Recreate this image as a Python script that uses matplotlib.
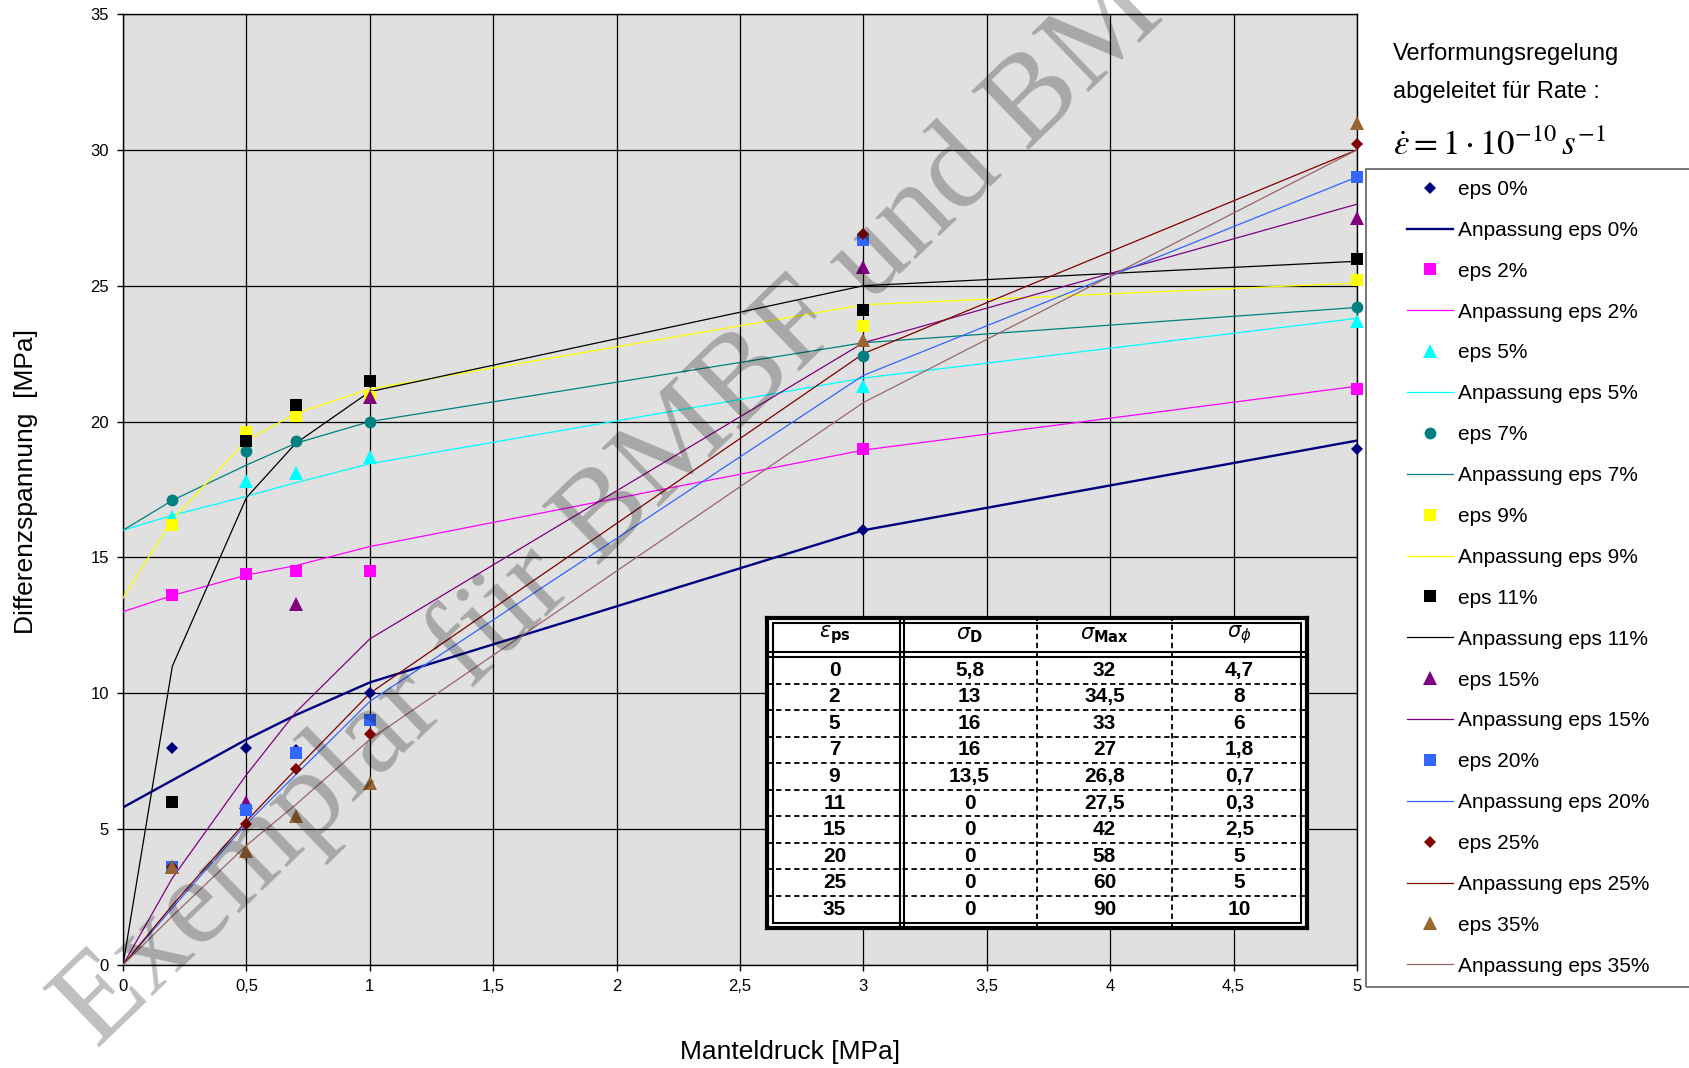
import matplotlib
matplotlib.use("Agg")
import matplotlib.pyplot as plt
from matplotlib.lines import Line2D
from matplotlib.patches import Rectangle

plt.rcParams["font.family"] = ["Liberation Sans", "DejaVu Sans"]

# measured points (Manteldruck in MPa)
X_PTS = [0.2, 0.5, 0.7, 1.0, 3.0, 5.0]
# fitted curves evaluated at these positions
X_FIT = [0.0, 0.2, 0.5, 0.7, 1.0, 3.0, 5.0]

eps0 = [8.0, 8.0, 7.9, 10.0, 16.0, 19.0]
fit0 = [5.8, 6.8, 8.3, 9.2, 10.4, 16.0, 19.3]
eps2 = [13.6, 14.4, 14.5, 14.5, 19.0, 21.2]
fit2 = [13.0, 13.6, 14.35, 14.7, 15.4, 18.95, 21.3]
eps5 = [16.5, 17.8, 18.1, 18.7, 21.3, 23.7]
fit5 = [16.0, 16.55, 17.25, 17.75, 18.45, 21.6, 23.8]
eps7 = [17.1, 18.9, 19.3, 20.0, 22.4, 24.2]
fit7 = [16.0, 17.1, 18.4, 19.2, 20.0, 22.9, 24.2]
eps9 = [16.2, 19.6, 20.2, 20.9, 23.5, 25.2]
fit9 = [13.5, 16.4, 19.3, 20.3, 21.2, 24.3, 25.1]
eps11 = [6.0, 19.3, 20.6, 21.5, 24.1, 26.0]
fit11 = [0.0, 11.0, 17.2, 19.2, 21.1, 25.0, 25.9]
eps15 = [3.6, 6.0, 13.3, 20.9, 25.7, 27.5]
fit15 = [0.0, 3.2, 7.0, 9.3, 12.0, 22.9, 28.0]
eps20 = [3.6, 5.7, 7.8, 9.0, 26.7, 29.0]
fit20 = [0.0, 2.1, 5.2, 7.0, 9.7, 21.7, 29.0]
eps25 = [3.6, 5.2, 7.2, 8.5, 26.9, 30.2]
fit25 = [0.0, 2.2, 5.3, 7.2, 10.0, 22.5, 30.0]
eps35 = [3.6, 4.2, 5.5, 6.7, 23.0, 31.0]
fit35 = [0.0, 1.8, 4.4, 5.9, 8.3, 20.7, 30.0]

EPS_LABELS = ["0", "2", "5", "7", "9", "11", "15", "20", "25", "35"]

# table in the plot
TAB_HEAD = [r"$\varepsilon_{\mathbf{ps}}$", r"$\sigma_{\mathbf{D}}$",
            r"$\sigma_{\mathbf{Max}}$", r"$\sigma_{\phi}$"]
TAB_EPS = ["0", "2", "5", "7", "9", "11", "15", "20", "25", "35"]
TAB_SIG_D = ["5,8", "13", "16", "16", "13,5", "0", "0", "0", "0", "0"]
TAB_SIG_MAX = ["32", "34,5", "33", "27", "26,8", "27,5", "42", "58", "60", "90"]
TAB_SIG_PHI = ["4,7", "8", "6", "1,8", "0,7", "0,3", "2,5", "5", "5", "10"]

X_TICKS = [0, 0.5, 1, 1.5, 2, 2.5, 3, 3.5, 4, 4.5, 5]
Y_TICKS = [0, 5, 10, 15, 20, 25, 30, 35]

SERIES = [
    (eps0, fit0, "D", 6.0, "#000080", "#000080", 1.7),
    (eps2, fit2, "s", 8.5, "#FF00FF", "#FF00FF", 0.9),
    (eps5, fit5, "^", 9.5, "#00FFFF", "#00FFFF", 0.9),
    (eps7, fit7, "o", 8.5, "#008080", "#008080", 0.9),
    (eps9, fit9, "s", 8.5, "#FFFF00", "#FFFF00", 0.9),
    (eps11, fit11, "s", 8.5, "#000000", "#000000", 0.9),
    (eps15, fit15, "^", 9.5, "#800080", "#800080", 0.9),
    (eps20, fit20, "s", 8.5, "#3366FF", "#3366FF", 0.9),
    (eps25, fit25, "D", 6.0, "#800000", "#800000", 0.9),
    (eps35, fit35, "^", 9.5, "#996633", "#996666", 0.9),
]


def main():
    W, H = 1689, 1068
    fig = plt.figure(figsize=(W / 100, H / 100), dpi=100)
    ax = fig.add_axes([123 / W, 1 - 965 / H, (1357 - 123) / W, (965 - 14) / H])
    ax.set_facecolor("#E0E0E0")

    handles, labels = [], []
    for (pts, fit, mk, ms, col, lcol, lw), eps in zip(SERIES, EPS_LABELS):
        ax.plot(X_PTS, pts, ls="none", marker=mk, ms=ms, color=col,
                markeredgewidth=0, zorder=4, clip_on=False)
        ax.plot(X_FIT, fit, color=lcol, lw=lw, zorder=3)
        handles.append(Line2D([], [], ls="none", marker=mk, ms=ms, color=col,
                              markeredgewidth=0))
        labels.append(f"eps {eps}%")
        handles.append(Line2D([], [], color=lcol, lw=lw))
        labels.append(f"Anpassung eps {eps}%")

    ax.set_xlim(0, 5)
    ax.set_ylim(0, 35)
    ax.set_xticks(X_TICKS)
    ax.set_xticklabels([f"{t:g}".replace(".", ",") for t in X_TICKS])
    ax.set_yticks(Y_TICKS)
    ax.set_yticklabels([str(t) for t in Y_TICKS])
    ax.tick_params(direction="out", length=4, width=1, labelsize=12, pad=6)
    ax.grid(True, color="black", lw=0.9)
    ax.set_axisbelow(True)
    for sp in ax.spines.values():
        sp.set_linewidth(1.0)

    fig.text(790 / W, 1 - 1052 / H, "Manteldruck [MPa]", fontsize=19,
             ha="center", va="center")
    fig.text(26 / W, 1 - 482 / H, "Differenzspannung  [MPa]", fontsize=19,
             ha="center", va="center", rotation=90)

    # header texts right of the plot
    fig.text(1393 / W, 1 - 60 / H, "Verformungsregelung", fontsize=17,
             va="baseline")
    fig.text(1393 / W, 1 - 98 / H, "abgeleitet für Rate :", fontsize=17,
             va="baseline")
    fig.text(1393 / W, 1 - 155 / H, r"$\dot{\varepsilon} = 1\cdot10^{-10}\,s^{-1}$",
             fontsize=25, va="baseline", math_fontfamily="stix")

    # legend box
    fig.add_artist(Rectangle((1366 / W, 1 - 987 / H), 0.3, (987 - 169) / H,
                             transform=fig.transFigure, fill=False,
                             edgecolor="#606060", lw=1.2))
    fig.legend(handles, labels, loc="upper left",
               bbox_to_anchor=(1407 / W, 1 - 180 / H), frameon=False,
               fontsize=15, handlelength=2.2, handletextpad=0.25,
               labelspacing=1.05, borderpad=0, borderaxespad=0, numpoints=1)

    # table
    tab = fig.add_axes([767 / W, 1 - 928 / H, 540 / W, 310 / H], zorder=5)
    tab.set_xlim(0, 4)
    top_h = 1.43
    row_h = 0.975
    n = len(TAB_EPS)
    tab.set_ylim(top_h + n * row_h + 0.2, 0)
    tab.set_facecolor("white")
    tab.set_xticks([])
    tab.set_yticks([])
    for sp in tab.spines.values():
        sp.set_linewidth(3)
    tab.add_patch(Rectangle((0.011, 0.016), 0.978, 0.968, transform=tab.transAxes,
                            fill=False, lw=1.5, edgecolor="black"))
    tab.axhline(top_h - 0.18, color="black", lw=1.5)
    tab.axhline(top_h, color="black", lw=1.5)
    for i in range(1, n):
        tab.axhline(top_h + i * row_h, color="black", lw=1.3, ls=(0, (3, 2)))
    tab.axvline(0.985, color="black", lw=1.5)
    tab.axvline(1.015, color="black", lw=1.5)
    tab.axvline(2, color="black", lw=1.3, ls=(0, (3, 2)))
    tab.axvline(3, color="black", lw=1.3, ls=(0, (3, 2)))
    for j, h in enumerate(TAB_HEAD):
        tab.text(j + 0.5, (top_h - 0.18) / 2, h, ha="center", va="center",
                 fontsize=15)
    cols = [TAB_EPS, TAB_SIG_D, TAB_SIG_MAX, TAB_SIG_PHI]
    for j, col in enumerate(cols):
        for i, v in enumerate(col):
            tab.text(j + 0.5, top_h + (i + 0.5) * row_h, v, ha="center",
                     va="center", fontsize=15, fontweight="bold")

    # watermark
    fig.text(97 / W, 1 - 1050 / H, "Exemplar für BMBF und BMWi", fontsize=90,
             family="Liberation Serif", color="black", alpha=0.25,
             rotation=44, rotation_mode="anchor", ha="left", va="baseline",
             zorder=10)

    fig.savefig("out.png", dpi=100)
    plt.close(fig)


if __name__ == "__main__":
    main()
